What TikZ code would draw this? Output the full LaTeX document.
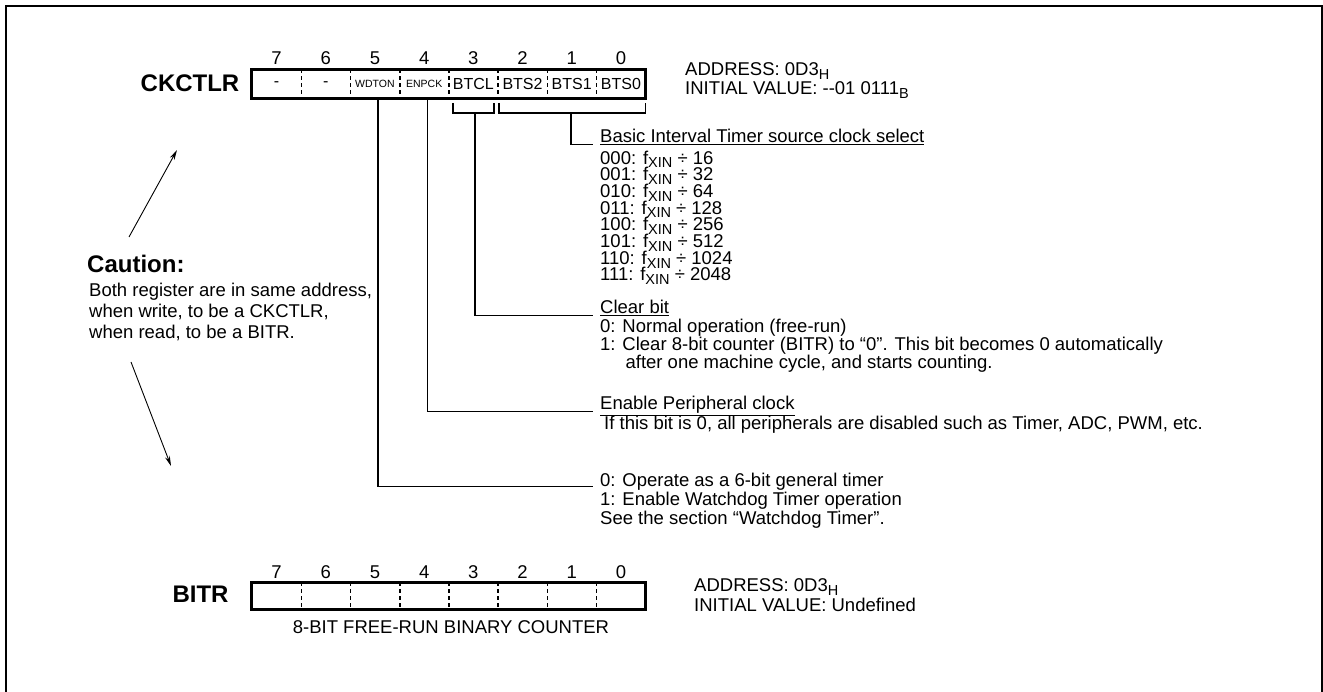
\documentclass[tikz,border=0pt]{standalone}
\usepackage{fontspec}
\setmainfont{Liberation Sans}
\usetikzlibrary{arrows.meta}

\newcommand{\lo}[1]{\smash{\raisebox{-3.8pt}{\fontsize{14.5}{14.5}\selectfont #1}}}
\newcommand{\tinylbl}{\fontsize{10.5}{11}\selectfont}

\begin{document}
\begin{tikzpicture}[x=1pt,y=-1pt,
  cell/.style={minimum width=49.19pt,minimum height=28.7pt,inner sep=0pt,font=\fontsize{16}{16}\selectfont},
  bitno/.style={anchor=base,inner sep=0pt,font=\fontsize{18.5}{18.5}\selectfont},
  regbox/.style={line width=3pt},
  sep/.style={line width=1.6pt,dash pattern=on 4pt off 3pt},
  txt/.style={anchor=base west,inner sep=0pt,align=left,font=\fontsize{18.5}{20}\selectfont},
  title/.style={anchor=base,inner sep=0pt,font=\fontsize{24}{24}\selectfont\bfseries},
  wire/.style={line width=1.2pt},
  ptr/.style={line width=0.9pt,-{Stealth[length=10pt,width=5pt]}}]
\useasboundingbox (0,0) rectangle (1323,692);
\draw[line width=1.8pt] (6,6) rectangle (1322,700);

% CKCTLR register (multi-line texts sit on their last baseline)
\node[title] (ckname) at (190,92) {CKCTLR};
\foreach \b/\lbl in {7/-,6/-,5/\tinylbl WDTON,4/\tinylbl ENPCK,3/BTCL,2/BTS2,1/BTS1,0/BTS0}{
  \node[cell] (ck\b) at ({252+(7.5-\b)*49.19},83.65) {\lbl};
  \node[bitno] (nk\b) at ([yshift=4.3pt]ck\b.north) {\b};
}
\draw[regbox] (ck7.north west) rectangle (ck0.south east);
\foreach \b in {7,...,1} \draw[sep] (ck\b.north east) -- (ck\b.south east);
\node[txt,font=\fontsize{18.5}{19.5}\selectfont] (ckaddr) at (685,95) {ADDRESS: 0D3\lo{H}\\INITIAL VALUE: -{}-01 0111\lo{B}};

% brackets
\draw[wire] (453,103) -- (453,113) -- (494,113) -- (494,103);
\draw[wire] (499,103) -- (499,113) -- (645.5,113) -- (645.5,103);
\coordinate (clrtap) at (475,113);
\coordinate (seltap) at (571,113);

% bit descriptions
\node[txt] (selhd) at (600,143) {\underline{Basic Interval Timer source clock select}};
\node[txt,font=\fontsize{18.5}{16.7}\selectfont] (sellist) at (600,281) {000: f\lo{XIN} ÷ 16\\001: f\lo{XIN} ÷ 32\\010: f\lo{XIN} ÷ 64\\011: f\lo{XIN} ÷ 128\\100: f\lo{XIN} ÷ 256\\101: f\lo{XIN} ÷ 512\\110: f\lo{XIN} ÷ 1024\\111: f\lo{XIN} ÷ 2048};
\node[txt] (clrhd) at (600,314) {\underline{Clear bit}};
\node[txt,font=\fontsize{18.5}{18}\selectfont] (clrtxt) at (600,369) {0: Normal operation (free-run)\\1: Clear 8-bit counter (BITR) to “0”. This bit becomes 0 automatically\\\phantom{1: }\,after one machine cycle, and starts counting.};
\node[txt] (enhd) at (600,410) {\underline{Enable Peripheral clock}};
\node[txt] (entxt) at (604,430) {If this bit is 0, all peripherals are disabled such as Timer, ADC, PWM, etc.};
\node[txt,font=\fontsize{18.5}{19}\selectfont] (wdt) at (600,524.5) {0: Operate as a 6-bit general timer\\1: Enable Watchdog Timer operation\\See the section “Watchdog Timer”.};

\draw[wire] (seltap) |- ([xshift=-7pt,yshift=-1.5pt]selhd.base west);
\draw[wire] (clrtap) |- ([xshift=-7pt,yshift=-1.5pt]clrhd.base west);
\draw[wire] ([xshift=3pt]ck4.south) |- ([xshift=-7pt,yshift=-1.5pt]enhd.base west);
\draw[wire] ([xshift=3pt]ck5.south) |- ([xshift=-7pt,yshift=38pt]wdt.base west);

% caution note
\node[title,anchor=base west] (caut) at (87,272.5) {Caution:};
\node[txt,font=\fontsize{18.5}{21}\selectfont] (cauttxt) at (89,338.5) {Both register are in same address,\\when write, to be a CKCTLR,\\when read, to be a BITR.};
\coordinate (upA) at (129,237);
\coordinate (upB) at (177,150);
\coordinate (dnA) at (131,362);
\coordinate (dnB) at (171,466);
\draw[ptr] (upA) -- (upB);
\draw[ptr] (dnA) -- (dnB);

% BITR register
\node[title] (btname) at (200.5,602) {BITR};
\foreach \b in {7,...,0}{
  \node[cell,minimum height=26.5pt] (bt\b) at ({252+(7.5-\b)*49.19},595.75) {};
  \node[bitno] (nb\b) at ([yshift=4.3pt]bt\b.north) {\b};
}
\draw[regbox] (bt7.north west) rectangle (bt0.south east);
\foreach \b in {7,...,1} \draw[sep] (bt\b.north east) -- (bt\b.south east);
\node[txt,font=\fontsize{18.5}{19.5}\selectfont] (btaddr) at (694,611) {ADDRESS: 0D3\lo{H}\\INITIAL VALUE: Undefined};
\node[txt,anchor=base] (btnote) at (451,633) {8-BIT FREE-RUN BINARY COUNTER};
\end{tikzpicture}
\end{document}
